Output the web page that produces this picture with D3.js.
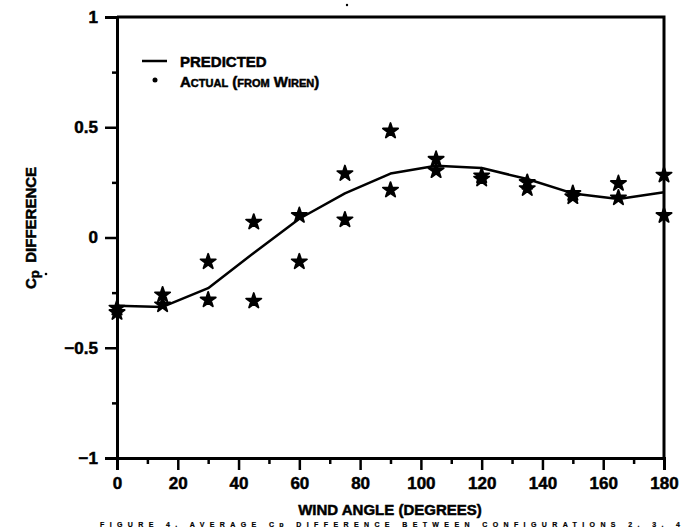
<!DOCTYPE html>
<html>
<head>
<meta charset="utf-8">
<script src="https://cdn.jsdelivr.net/npm/d3@7"></script>
<style>
  html, body { margin: 0; padding: 0; background: #fff; }
  svg { display: block; font-family: "Liberation Sans", Arial, sans-serif; font-weight: bold; }
  svg text { stroke: #000; stroke-width: 0.5px; }
</style>
</head>
<body>
<svg id="chart" width="686" height="527"></svg>
<script>
// ---- data ----
const predictedAngles = [0, 15, 30, 45, 60, 75, 90, 105, 120, 135, 150, 165, 180];
const predictedValues = [-0.31, -0.315, -0.23, -0.07, 0.085, 0.20, 0.29, 0.325, 0.315, 0.265, 0.20, 0.175, 0.205];
const actualAngles = [0, 0, 15, 15, 30, 30, 45, 45, 60, 60, 75, 75, 90, 90, 105, 105, 120, 120, 135, 135, 150, 150, 165, 165, 180, 180];
const actualValues = [-0.32, -0.34, -0.26, -0.305, -0.11, -0.283, 0.07, -0.288, 0.10, -0.11, 0.29, 0.08, 0.483, 0.215, 0.355, 0.303, 0.28, 0.265, 0.25, 0.222, 0.20, 0.185, 0.245, 0.18, 0.283, 0.10];
const xMajorTicks = [0, 20, 40, 60, 80, 100, 120, 140, 160, 180];
const xMinorTicks = [10, 30, 50, 70, 90, 110, 130, 150, 170];
const yMajorTicks = [-1, -0.5, 0, 0.5, 1];
const yMinorTicks = [-0.75, -0.25, 0.25, 0.75];
const yTickLabels = ["\u22121", "\u22120.5", "0", "0.5", "1"];
const legendLabels = ["PREDICTED", "Actual (from Wiren)"];
const xTitle = "WIND ANGLE (DEGREES)";
const caption = "FIGURE 4.  AVERAGE Cp DIFFERENCE BETWEEN CONFIGURATIONS 2, 3, 4";

// ---- layout ----
const svg = d3.select("#chart");
const x = d3.scaleLinear().domain([0, 180]).range([117, 664]);
const y = d3.scaleLinear().domain([-1, 1]).range([458, 17]);

// frame (top and right)
svg.append("path")
  .attr("d", `M${x(0)},${y(1)}H${x(180)}V${y(-1)}`)
  .attr("fill", "none").attr("stroke", "#000").attr("stroke-width", 3);

// x axis
svg.append("g").attr("transform", `translate(0,${y(-1)})`)
  .call(d3.axisBottom(x).tickValues(xMajorTicks).tickSize(12).tickPadding(7).tickFormat(d3.format("d")));
svg.append("g").attr("transform", `translate(0,${y(-1)})`)
  .call(d3.axisBottom(x).tickValues(xMinorTicks).tickSize(6).tickFormat(""))
  .call(g => g.select(".domain").remove());

// y axis
svg.append("g").attr("transform", `translate(${x(0)},0)`)
  .call(d3.axisLeft(y).tickValues(yMajorTicks).tickSize(12).tickPadding(7)
    .tickFormat((d, i) => yTickLabels[i]));
svg.append("g").attr("transform", `translate(${x(0)},0)`)
  .call(d3.axisLeft(y).tickValues(yMinorTicks).tickSize(5).tickFormat(""))
  .call(g => g.select(".domain").remove());

svg.selectAll(".domain").attr("stroke-width", 3).attr("stroke", "#000");
svg.selectAll(".tick line").attr("stroke-width", 2.5).attr("stroke", "#000");
svg.selectAll(".tick text")
  .attr("font-family", "'Liberation Sans', Arial, sans-serif")
  .attr("font-weight", "bold").attr("font-size", 17).attr("fill", "#000");

// predicted line
const line = d3.line().x((d, i) => x(predictedAngles[i])).y(d => y(d));
svg.append("path").datum(predictedValues)
  .attr("d", line).attr("fill", "none")
  .attr("stroke", "#000").attr("stroke-width", 2.5).attr("stroke-linejoin", "round");

// actual stars
const star = d3.symbol().type(d3.symbolStar).size(72);
svg.append("g").selectAll("path").data(actualValues).join("path")
  .attr("transform", (d, i) => `translate(${x(actualAngles[i])},${y(d)})`)
  .attr("d", star).attr("fill", "#000").attr("stroke", "#000")
  .attr("stroke-width", 1.8).attr("stroke-linejoin", "round");

// legend
svg.append("line").attr("x1", 142).attr("x2", 167).attr("y1", 61).attr("y2", 61)
  .attr("stroke", "#000").attr("stroke-width", 2.5);
svg.append("text").attr("x", 180).attr("y", 67).attr("font-size", 15).text(legendLabels[0]);
svg.append("circle").attr("cx", 155).attr("cy", 80).attr("r", 2.5).attr("fill", "#000");
svg.append("text").attr("x", 180).attr("y", 87).attr("font-size", 15)
  .style("font-variant", "small-caps").text(legendLabels[1]);

// axis titles
svg.append("text").attr("x", 390).attr("y", 515).attr("text-anchor", "middle")
  .attr("font-size", 15).text(xTitle);
const yt = svg.append("text").attr("transform", "translate(36,228) rotate(-90)")
  .attr("text-anchor", "middle").attr("font-size", 15);
yt.append("tspan").text("C");
yt.append("tspan").attr("font-size", 13).attr("dy", 3).text("p");
yt.append("tspan").attr("dy", -3).text("\u2002DIFFERENCE");

// stray dots
svg.append("circle").attr("cx", 46).attr("cy", 274).attr("r", 1.3).attr("fill", "#000");
svg.append("circle").attr("cx", 347).attr("cy", 5).attr("r", 1.2).attr("fill", "#000");

// caption (bottom strip)
svg.append("text").attr("x", 100).attr("y", 526.5).attr("font-size", 7)
  .attr("textLength", 580).attr("lengthAdjust", "spacing")
  .style("stroke-width", "0.2px").text(caption);
</script>
</body>
</html>
